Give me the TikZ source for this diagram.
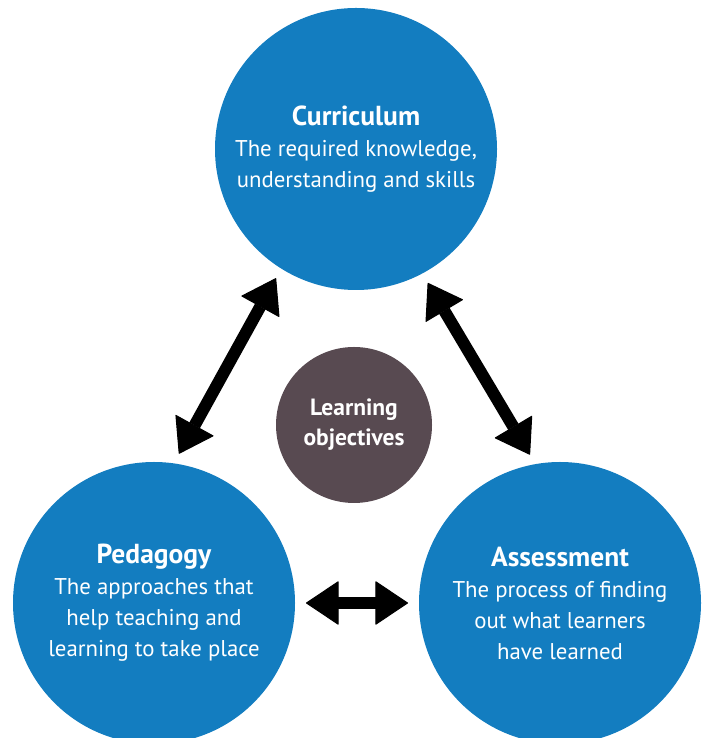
\documentclass[tikz,border=0pt]{standalone}
\usepackage{fontspec}
\setmainfont{PT Sans}
\usepackage{tikz}
\usetikzlibrary{arrows.meta}
\definecolor{cblue}{RGB}{19,125,192}
\definecolor{cbrown}{RGB}{88,74,81}
\tikzset{
  bigc/.style={circle, fill=cblue, minimum size=282pt, inner sep=0pt, outer sep=0pt,
    text=white, align=center, font=\fontsize{22.8}{31}\selectfont},
  smallc/.style={circle, fill=cbrown, minimum size=156pt, inner sep=0pt, outer sep=0pt,
    text=white, align=center, font=\fontsize{23.5}{30}\selectfont\bfseries},
  link/.style={line width=12pt, {Triangle[round,line width=1pt,length=33pt,width=44pt]}-{Triangle[round,line width=1pt,length=33pt,width=44pt]}, shorten <=11pt, shorten >=11pt},
}
\newcommand{\ttl}[1]{{\fontsize{27.5}{33}\selectfont\bfseries #1}}
\begin{document}
\begin{tikzpicture}[x=1pt,y=1pt]
      \useasboundingbox (0,0) rectangle (702,738);
      % Circles
      \node[bigc] (curr) at (356,589) {\ttl{Curriculum}\\The required knowledge,\\understanding and skills};
      \node[bigc] (ped) at (154,135) {\ttl{Pedagogy}\\The approaches that\\help teaching and\\learning to take place};
      \node[bigc] (ass) at (560,135) {\ttl{Assessment}\\The process of finding\\out what learners\\have learned};
      \node[smallc] (obj) at (354,313) {Learning\\objectives};
      %
      % Links:
      \draw[link] (curr.238.5) -- (ped.82);
      \draw[link] (curr.298.8) -- (ass.100.6);
      \draw[link] (ped.0) -- (ass.180);
\end{tikzpicture}
\end{document}
